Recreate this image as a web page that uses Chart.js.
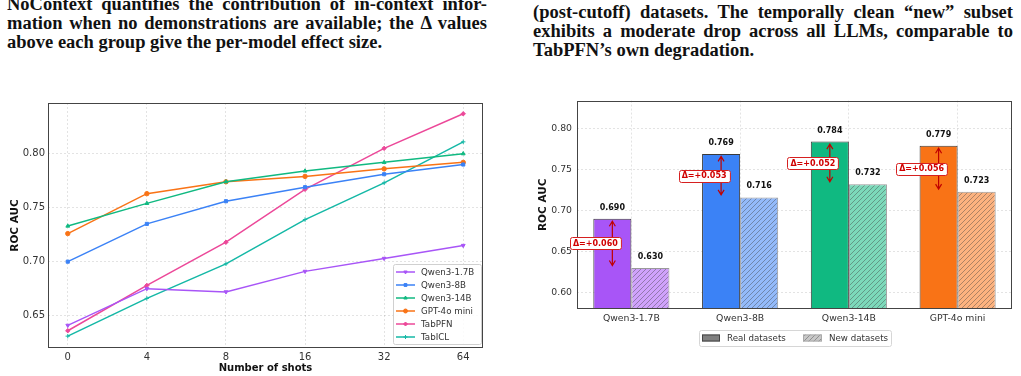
<!DOCTYPE html>
<html>
<head>
<meta charset="utf-8">
<script src="https://cdn.jsdelivr.net/npm/chart.js@4.4.1/dist/chart.umd.min.js"></script>
<style>
  body { margin: 0; background: #fff; width: 1021px; height: 376px; overflow: hidden; position: relative; }
  .cap { position: absolute; width: 480px; font-family: 'Liberation Serif', serif; font-weight: bold; font-size: 18.5px; color: #111; }
  .cap div { height: 18.8px; line-height: 18.8px; white-space: nowrap; text-align: justify; text-align-last: justify; }
  .cap div.last { text-align: left; text-align-last: left; }
  .box { position: absolute; }
</style>
</head>
<body>
<div class="cap" style="left:7px; top:-5px;">
  <div>NoContext quantifies the contribution of in-context infor-</div>
  <div>mation when no demonstrations are available; the Δ values</div>
  <div class="last">above each group give the per-model effect size.</div>
</div>
<div class="cap" style="left:533px; top:3px;">
  <div>(post-cutoff) datasets. The temporally clean “new” subset</div>
  <div>exhibits a moderate drop across all LLMs, comparable to</div>
  <div class="last">TabPFN’s own degradation.</div>
</div>
<div class="box" style="left:0; top:90px;"><canvas id="shots" width="510" height="286"></canvas></div>
<div class="box" style="left:515px; top:90px;"><canvas id="fresh" width="506" height="286"></canvas></div>
<script>
// ---- data ----
const shots = ['0', '4', '8', '16', '32', '64'];
const qwen17 = [0.641, 0.675, 0.672, 0.691, 0.703, 0.715];
const qwen8 = [0.700, 0.735, 0.756, 0.769, 0.781, 0.790];
const qwen14 = [0.733, 0.754, 0.774, 0.784, 0.792, 0.800];
const gpt4o = [0.726, 0.763, 0.774, 0.779, 0.786, 0.792];
const tabpfn = [0.636, 0.678, 0.718, 0.767, 0.805, 0.837];
const tabicl = [0.631, 0.666, 0.698, 0.739, 0.773, 0.811];
const shotTicks = [0.65, 0.70, 0.75, 0.80];

const models = ['Qwen3-1.7B', 'Qwen3-8B', 'Qwen3-14B', 'GPT-4o mini'];
const realAuc = [0.690, 0.769, 0.784, 0.779];
const newAuc = [0.630, 0.716, 0.732, 0.723];
const barTicks = [0.60, 0.65, 0.70, 0.75, 0.80];

// ---- styling ----
Chart.defaults.font.family = "'DejaVu Sans', sans-serif";
Chart.defaults.color = '#333';
const modelColors = ['#a855f7', '#3b82f6', '#10b981', '#f97316'];
const gridStyle = { color: 'rgba(0,0,0,0.14)', lineWidth: 0.8, drawTicks: false };
const dash = [2, 2];

function lighten(hex, a) {
  const n = parseInt(hex.slice(1), 16);
  const r = n >> 16, g = (n >> 8) & 255, b = n & 255;
  const m = v => Math.round(v * a + 255 * (1 - a));
  return `rgb(${m(r)},${m(g)},${m(b)})`;
}
function hatch(fill) {
  const c = document.createElement('canvas');
  c.width = 5; c.height = 5;
  const g = c.getContext('2d');
  g.fillStyle = fill; g.fillRect(0, 0, 5, 5);
  g.strokeStyle = 'rgba(60,60,60,0.45)'; g.lineWidth = 0.9;
  g.beginPath();
  g.moveTo(0, 5); g.lineTo(5, 0);
  g.moveTo(-1, 1); g.lineTo(1, -1);
  g.moveTo(4, 6); g.lineTo(6, 4);
  g.stroke();
  return g.createPattern(c, 'repeat');
}

const frame = {
  id: 'frame',
  afterDatasetsDraw(chart) {
    const a = chart.chartArea, ctx = chart.ctx;
    ctx.save();
    ctx.strokeStyle = '#444'; ctx.lineWidth = 1;
    ctx.strokeRect(Math.round(a.left) + 0.5, Math.round(a.top) + 0.5, Math.round(a.right - a.left) - 1, Math.round(a.bottom - a.top) - 1);
    ctx.restore();
  }
};

// ---- left: ROC AUC vs number of shots ----
const lineSeries = [
  { label: 'Qwen3-1.7B', data: qwen17, color: '#a855f7', style: 'triangle', rot: 180 },
  { label: 'Qwen3-8B', data: qwen8, color: '#3b82f6', style: 'rect', rot: 0 },
  { label: 'Qwen3-14B', data: qwen14, color: '#10b981', style: 'triangle', rot: 0 },
  { label: 'GPT-4o mini', data: gpt4o, color: '#f97316', style: 'circle', rot: 0 },
  { label: 'TabPFN', data: tabpfn, color: '#ec4899', style: 'rectRot', rot: 0 },
  { label: 'TabICL', data: tabicl, color: '#14b8a6', style: 'cross', rot: 0 }
];

const lineLegend = {
  id: 'lineLegend',
  afterDraw(chart) {
    const a = chart.chartArea, ctx = chart.ctx;
    const w = 88, h = 80;
    const x0 = a.right - 2 - w, y0 = a.bottom - 4 - h;
    ctx.save();
    ctx.fillStyle = 'rgba(255,255,255,0.85)';
    ctx.strokeStyle = '#d0d0d0'; ctx.lineWidth = 1;
    ctx.beginPath(); ctx.roundRect(x0 + 0.5, y0 + 0.5, w, h, 2); ctx.fill(); ctx.stroke();
    ctx.font = '8.7px "DejaVu Sans"'; ctx.textBaseline = 'middle';
    lineSeries.forEach((s, i) => {
      const y = y0 + 8 + i * 13;
      ctx.strokeStyle = s.color; ctx.fillStyle = s.color; ctx.lineWidth = 1.5;
      ctx.beginPath(); ctx.moveTo(x0 + 3, y); ctx.lineTo(x0 + 22, y); ctx.stroke();
      ctx.lineWidth = 1;
      Chart.helpers.drawPoint(ctx, { pointStyle: s.style, rotation: s.rot, radius: 2, borderWidth: 1 }, x0 + 12.5, y);
      ctx.fillStyle = '#333';
      ctx.fillText(s.label, x0 + 28, y + 0.5);
    });
    ctx.restore();
  }
};

new Chart(document.getElementById('shots'), {
  type: 'line',
  data: {
    datasets: lineSeries.map(s => ({
      label: s.label,
      data: s.data.map((v, i) => ({ x: i, y: v })),
      borderColor: s.color,
      backgroundColor: s.color,
      borderWidth: 1.5,
      pointStyle: s.style,
      pointRotation: s.rot,
      pointRadius: 2.2,
      pointBorderWidth: 1,
      pointBorderColor: s.color,
      pointBackgroundColor: s.color
    }))
  },
  options: {
    responsive: false,
    animation: false,
    devicePixelRatio: 1,
    layout: { padding: { left: 0, top: 13, right: 27, bottom: 0 } },
    plugins: { legend: { display: false }, tooltip: { enabled: false } },
    scales: {
      x: {
        type: 'linear', min: -0.25, max: 5.25,
        afterBuildTicks: s => { s.ticks = shots.map((_, i) => ({ value: i })); },
        afterFit: s => { s.height = 28; },
        ticks: { callback: v => shots[v], font: { size: 10 }, padding: 3, maxRotation: 0 },
        grid: gridStyle,
        border: { display: false, dash: dash },
        title: { display: true, text: 'Number of shots', font: { size: 10, weight: 'bold' }, color: '#111', padding: { top: 0, bottom: 2 } }
      },
      y: {
        min: 0.620, max: 0.847,
        afterBuildTicks: s => { s.ticks = shotTicks.map(v => ({ value: v })); },
        afterFit: s => { s.width = 48; },
        ticks: { callback: v => v.toFixed(2), font: { size: 10 }, padding: 3 },
        grid: gridStyle,
        border: { display: false, dash: dash },
        title: { display: true, text: 'ROC AUC', font: { size: 10.5, weight: 'bold' }, color: '#111', padding: { top: 9, bottom: 0 } }
      }
    }
  },
  plugins: [frame, lineLegend]
});

// ---- right: real vs new datasets ----
const barLabels = {
  id: 'barLabels',
  afterDatasetsDraw(chart) {
    const ctx = chart.ctx, ys = chart.scales.y;
    ctx.save();
    ctx.font = 'bold 8px "DejaVu Sans"'; ctx.textAlign = 'center'; ctx.textBaseline = 'middle';
    ctx.fillStyle = '#111';
    chart.data.datasets.forEach((ds, d) => {
      chart.getDatasetMeta(d).data.forEach((el, i) => {
        ctx.fillText(ds.data[i].toFixed(3), el.x, el.y - 11);
      });
    });
    // delta arrows on the real bars
    const real = chart.getDatasetMeta(0).data;
    real.forEach((el, i) => {
      const yr = ys.getPixelForValue(realAuc[i]) + 2.5;
      const yn = ys.getPixelForValue(newAuc[i]) - 2.5;
      const x = el.x;
      ctx.strokeStyle = '#c00000'; ctx.lineWidth = 1.2;
      ctx.beginPath();
      ctx.moveTo(x, yr); ctx.lineTo(x, yn);
      ctx.moveTo(x - 3, yr + 5); ctx.lineTo(x, yr); ctx.lineTo(x + 3, yr + 5);
      ctx.moveTo(x - 3, yn - 5); ctx.lineTo(x, yn); ctx.lineTo(x + 3, yn - 5);
      ctx.stroke();
      const txt = 'Δ=+' + (realAuc[i] - newAuc[i]).toFixed(3);
      const tw = ctx.measureText(txt).width;
      const cx = x - 17, cy = (yr + yn) / 2;
      ctx.fillStyle = '#fff'; ctx.strokeStyle = '#d62020'; ctx.lineWidth = 1;
      ctx.beginPath(); ctx.roundRect(Math.round(cx - tw / 2 - 3) + 0.5, Math.round(cy - 6) + 0.5, tw + 6, 12, 2);
      ctx.fill(); ctx.stroke();
      ctx.fillStyle = '#d00000';
      ctx.fillText(txt, cx, cy + 0.5);
    });
    ctx.restore();
  }
};

const barLegend = {
  id: 'barLegend',
  afterDraw(chart) {
    const a = chart.chartArea, ctx = chart.ctx;
    const w = 192, h = 16;
    const x0 = Math.round((a.left + a.right) / 2 - w / 2), y0 = Math.round(a.bottom + 21);
    ctx.save();
    ctx.fillStyle = '#fff'; ctx.strokeStyle = '#d6d6d6'; ctx.lineWidth = 1;
    ctx.beginPath(); ctx.roundRect(x0 + 0.5, y0 + 0.5, w, h, 2); ctx.fill(); ctx.stroke();
    const cy = y0 + 8;
    ctx.fillStyle = '#808080'; ctx.fillRect(x0 + 3, cy - 3.5, 18, 7);
    ctx.strokeStyle = '#444'; ctx.strokeRect(x0 + 3.5, cy - 3, 17, 6);
    ctx.fillStyle = hatch('#c8c8c8'); ctx.fillRect(x0 + 104, cy - 3.5, 19, 7);
    ctx.strokeStyle = '#aaa'; ctx.strokeRect(x0 + 104.5, cy - 3, 18, 6);
    ctx.fillStyle = '#333'; ctx.font = '8.7px "DejaVu Sans"'; ctx.textBaseline = 'middle';
    ctx.fillText('Real datasets', x0 + 28, cy + 0.5);
    ctx.fillText('New datasets', x0 + 130, cy + 0.5);
    ctx.restore();
  }
};

new Chart(document.getElementById('fresh'), {
  type: 'bar',
  data: {
    labels: models,
    datasets: [
      {
        label: 'Real datasets',
        data: realAuc,
        backgroundColor: modelColors,
        borderColor: '#3a3a3a',
        borderWidth: 1,
        borderSkipped: false,
        categoryPercentage: 0.7,
        barPercentage: 1.0
      },
      {
        label: 'New datasets',
        data: newAuc,
        backgroundColor: modelColors.map(c => hatch(lighten(c, 0.55))),
        borderColor: '#9a9a9a',
        borderWidth: 1,
        borderSkipped: false,
        categoryPercentage: 0.7,
        barPercentage: 1.0
      }
    ]
  },
  options: {
    responsive: false,
    animation: false,
    devicePixelRatio: 1,
    layout: { padding: { left: 0, top: 7, right: 9, bottom: 45 } },
    plugins: { legend: { display: false }, tooltip: { enabled: false } },
    scales: {
      x: {
        afterFit: s => { s.height = 22; },
        ticks: { font: { size: 9.3 }, padding: 4, maxRotation: 0 },
        grid: { ...gridStyle, offset: false },
        border: { display: false, dash: dash }
      },
      y: {
        min: 0.58, max: 0.834,
        afterBuildTicks: s => { s.ticks = barTicks.map(v => ({ value: v })); },
        afterFit: s => { s.width = 62; },
        ticks: { callback: v => v.toFixed(2), font: { size: 9.3 }, padding: 5 },
        grid: gridStyle,
        border: { display: false, dash: dash },
        title: { display: true, text: 'ROC AUC', font: { size: 10.5, weight: 'bold' }, color: '#111', padding: { top: 21.7, bottom: 0 } }
      }
    }
  },
  plugins: [frame, barLabels, barLegend]
});
</script>
</body>
</html>
